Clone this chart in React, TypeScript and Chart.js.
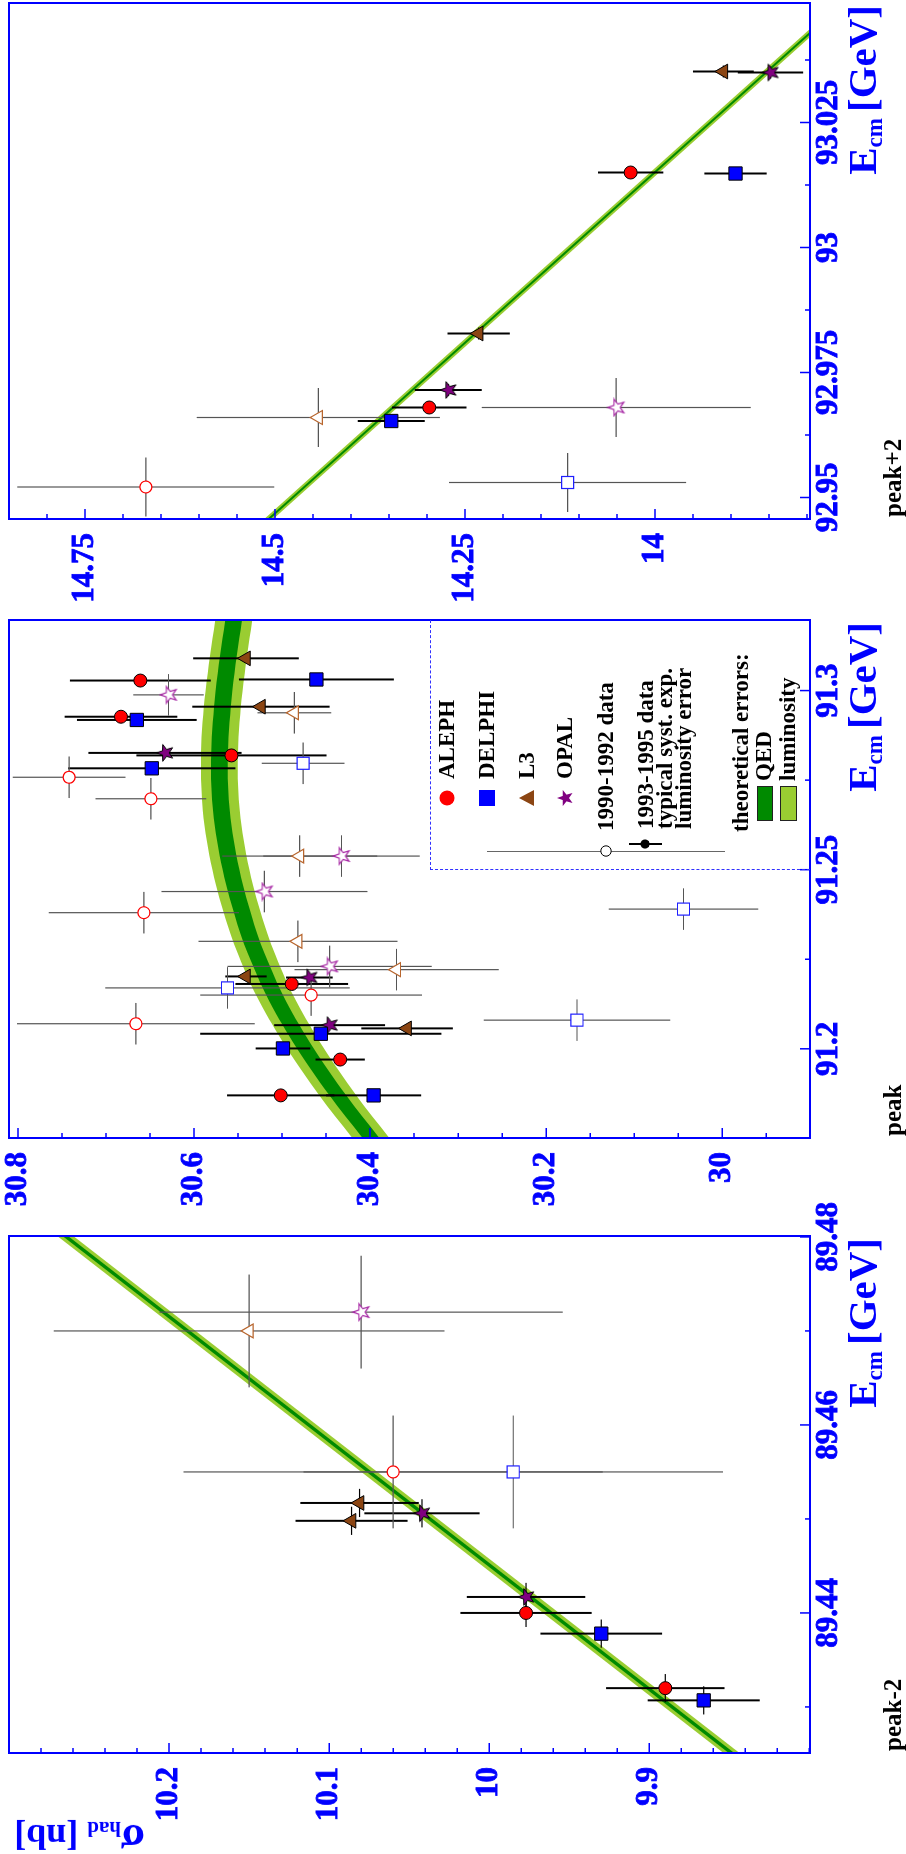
import React, { useEffect, useRef } from 'react';
import { Chart, registerables } from 'chart.js';

Chart.register(...registerables);

const SERIF = '"Liberation Serif", "Times New Roman", Times, serif';
const BLUE = '#0000ff';

// Each measurement: [E_cm (GeV), sigma_had (nb), sigma error (nb), E_cm error (GeV)]
// ---------- peak-2 ----------
const PM2_ALEPH = [[89.44, 9.977, 0.041, 0.0015], [89.432, 9.89, 0.037, 0.0015]];
const PM2_DELPHI = [[89.4378, 9.93, 0.038, 0.0015], [89.4307, 9.866, 0.035, 0.0015]];
const PM2_L3 = [[89.4517, 10.081, 0.037, 0.0015], [89.4498, 10.086, 0.035, 0.0015]];
const PM2_OPAL = [[89.4506, 10.042, 0.036, 0.0015], [89.4417, 9.977, 0.037, 0.0015]];
const PM2_ALEPH_9092 = [[89.455, 10.06, 0.131, 0.006]];
const PM2_DELPHI_9092 = [[89.455, 9.985, 0.131, 0.006]];
const PM2_L3_9092 = [[89.47, 10.15, 0.122, 0.006]];
const PM2_OPAL_9092 = [[89.472, 10.08, 0.126, 0.006]];
const PM2_THEORY_E = [89.42, 89.485];
const PM2_THEORY_SIGMA = [9.81, 10.302];
const PM2_E_TICKS = [89.44, 89.46, 89.48];
const PM2_SIGMA_TICKS = [9.9, 10, 10.1, 10.2];

// ---------- peak ----------
const PK_ALEPH = [[91.3028, 30.661, 0.08, 0], [91.2927, 30.683, 0.064, 0], [91.2819, 30.5575, 0.108, 0], [91.2181, 30.489, 0.064, 0], [91.197, 30.434, 0.028, 0], [91.187, 30.5015, 0.061, 0]];
const PK_DELPHI = [[91.3031, 30.461, 0.088, 0], [91.2918, 30.665, 0.068, 0], [91.2783, 30.648, 0.095, 0], [91.2042, 30.456, 0.137, 0], [91.2001, 30.499, 0.031, 0], [91.187, 30.396, 0.054, 0]];
const PK_L3 = [[91.309, 30.541, 0.06, 0], [91.2955, 30.524, 0.078, 0], [91.2202, 30.541, 0.0235, 0], [91.2057, 30.358, 0.052, 0]];
const PK_OPAL = [[91.2826, 30.633, 0.087, 0], [91.2199, 30.469, 0.0265, 0], [91.2066, 30.446, 0.063, 0]];
const PK_ALEPH_9092 = [[91.2758, 30.742, 0.064, 0.0058], [91.2698, 30.649, 0.063, 0.0058], [91.238, 30.657, 0.108, 0.0058], [91.215, 30.467, 0.126, 0.0058], [91.207, 30.666, 0.135, 0.0058]];
const PK_DELPHI_9092 = [[91.2797, 30.476, 0.047, 0.0058], [91.217, 30.562, 0.139, 0.0058], [91.208, 30.165, 0.106, 0.0058], [91.239, 30.044, 0.085, 0.0058]];
const PK_L3_9092 = [[91.2938, 30.486, 0.042, 0.0058], [91.2538, 30.48, 0.088, 0.0058], [91.23, 30.482, 0.113, 0.0058], [91.2221, 30.37, 0.116, 0.0058]];
const PK_OPAL_9092 = [[91.2988, 30.629, 0.04, 0.0058], [91.2538, 30.4325, 0.089, 0.0058], [91.2439, 30.52, 0.117, 0.0058], [91.223, 30.446, 0.116, 0.0058]];
const PK_THEORY_E = [91.172, 91.1754, 91.1871, 91.2003, 91.2133, 91.224, 91.2346, 91.2499, 91.2666, 91.2827, 91.2997, 91.3197, 91.323];
const PK_THEORY_SIGMA = [30.389, 30.4, 30.437, 30.474, 30.505, 30.525, 30.541, 30.558, 30.569, 30.571, 30.566, 30.555, 30.553];
const PK_E_TICKS = [91.2, 91.25, 91.3];
const PK_SIGMA_TICKS = [30, 30.2, 30.4, 30.6, 30.8];

// ---------- peak+2 ----------
const PP2_ALEPH = [[93.015, 14.032, 0.043, 0.0012], [92.968, 14.297, 0.049, 0.0012]];
const PP2_DELPHI = [[93.0148, 13.894, 0.041, 0.0012], [92.9653, 14.347, 0.044, 0.0012]];
const PP2_L3 = [[93.0352, 13.91, 0.04, 0.0012], [92.9828, 14.232, 0.041, 0.0012]];
const PP2_OPAL = [[93.035, 13.848, 0.043, 0.0012], [92.9715, 14.272, 0.044, 0.0012]];
const PP2_ALEPH_9092 = [[92.9521, 14.67, 0.169, 0.0059]];
const PP2_DELPHI_9092 = [[92.953, 14.115, 0.156, 0.0059]];
const PP2_L3_9092 = [[92.966, 14.443, 0.16, 0.0059]];
const PP2_OPAL_9092 = [[92.968, 14.051, 0.177, 0.0059]];
const PP2_THEORY_E = [92.94, 93.05];
const PP2_THEORY_SIGMA = [14.55, 13.744];
const PP2_E_TICKS = [92.95, 92.975, 93, 93.025];
const PP2_SIGMA_TICKS = [14, 14.25, 14.5, 14.75];

const mkSeries = (al, de, l3, op, al0, de0, l30, op0) => [
  { name: 'ALEPH', open: false, data: al },
  { name: 'DELPHI', open: false, data: de },
  { name: 'L3', open: false, data: l3 },
  { name: 'OPAL', open: false, data: op },
  { name: 'ALEPH', open: true, data: al0 },
  { name: 'DELPHI', open: true, data: de0 },
  { name: 'L3', open: true, data: l30 },
  { name: 'OPAL', open: true, data: op0 },
];

const PANELS = [
  {
    key: 'pm2', label: 'peak-2', left: 101, width: 517,
    eMin: 89.4251, eMax: 89.4801, eMinor: 0.01, eMajors: PM2_E_TICKS,
    sMin: 9.7996, sMax: 10.3, sMinor: 0.02, sMajors: PM2_SIGMA_TICKS,
    series: mkSeries(PM2_ALEPH, PM2_DELPHI, PM2_L3, PM2_OPAL, PM2_ALEPH_9092, PM2_DELPHI_9092, PM2_L3_9092, PM2_OPAL_9092),
    theoryE: PM2_THEORY_E, theoryS: PM2_THEORY_SIGMA, lum: 0.005, qed: 0.0017, tension: 0,
  },
  {
    key: 'pk', label: 'peak', left: 716, width: 518,
    eMin: 91.1751, eMax: 91.3197, eMinor: 0.025, eMajors: PK_E_TICKS,
    sMin: 29.9003, sMax: 30.8102, sMinor: 0.05, sMajors: PK_SIGMA_TICKS,
    series: mkSeries(PK_ALEPH, PK_DELPHI, PK_L3, PK_OPAL, PK_ALEPH_9092, PK_DELPHI_9092, PK_L3_9092, PK_OPAL_9092),
    theoryE: PK_THEORY_E, theoryS: PK_THEORY_SIGMA, lum: 0.021, qed: 0.0095, tension: 0.35,
  },
  {
    key: 'pp2', label: 'peak+2', left: 1335, width: 516,
    eMin: 92.9457, eMax: 93.0489, eMinor: 0.0125, eMajors: PP2_E_TICKS,
    sMin: 13.796, sMax: 14.85, sMinor: 0.05, sMajors: PP2_SIGMA_TICKS,
    series: mkSeries(PP2_ALEPH, PP2_DELPHI, PP2_L3, PP2_OPAL, PP2_ALEPH_9092, PP2_DELPHI_9092, PP2_L3_9092, PP2_OPAL_9092),
    theoryE: PP2_THEORY_E, theoryS: PP2_THEORY_SIGMA, lum: 0.006, qed: 0.002, tension: 0,
  },
];

const Y_AXIS_W = 101;
const X_AXIS_H = 96;
const TOP_PAD = 9;
const RIGHT_PAD = 40;

function ticksIn(min, max, step) {
  const out = [];
  const k0 = Math.ceil(min / step - 1e-6);
  const k1 = Math.floor(max / step + 1e-6);
  for (let k = k0; k <= k1; k++) out.push(+(k * step).toFixed(6));
  return out;
}
const isMajor = (v, majors) => majors.some((m) => Math.abs(m - v) < 1e-7);
const fmt = (v) => String(parseFloat(Number(v).toFixed(4)));

function makeStar(fill, stroke, lw) {
  const c = document.createElement('canvas');
  c.width = 20;
  c.height = 20;
  const g = c.getContext('2d');
  g.beginPath();
  for (let i = 0; i < 10; i++) {
    const r = i % 2 === 0 ? 8.8 : 3.6;
    const a = -Math.PI / 2 + (i * Math.PI) / 5;
    const x = 10 + r * Math.cos(a);
    const y = 10.5 + r * Math.sin(a);
    if (i === 0) g.moveTo(x, y);
    else g.lineTo(x, y);
  }
  g.closePath();
  g.fillStyle = fill;
  g.fill();
  g.lineWidth = lw;
  g.strokeStyle = stroke;
  g.stroke();
  return c;
}

function styleFor(name, open, stars) {
  if (!open) {
    if (name === 'ALEPH') return { pointStyle: 'circle', pointRadius: 6.5, backgroundColor: '#ff0000', borderColor: '#000', borderWidth: 1 };
    if (name === 'DELPHI') return { pointStyle: 'rect', pointRadius: 9.4, backgroundColor: '#0000ff', borderColor: '#000', borderWidth: 1 };
    if (name === 'L3') return { pointStyle: 'triangle', pointRadius: 8.5, backgroundColor: '#8b4513', borderColor: '#000', borderWidth: 1 };
    return { pointStyle: stars.filled, pointRadius: 9 };
  }
  if (name === 'ALEPH') return { pointStyle: 'circle', pointRadius: 6, backgroundColor: '#ffffff', borderColor: '#ff0000', borderWidth: 1.2 };
  if (name === 'DELPHI') return { pointStyle: 'rect', pointRadius: 8.5, backgroundColor: '#ffffff', borderColor: '#2020ff', borderWidth: 1.2 };
  if (name === 'L3') return { pointStyle: 'triangle', pointRadius: 8, backgroundColor: '#ffffff', borderColor: '#b8662e', borderWidth: 1.2 };
  return { pointStyle: stars.open, pointRadius: 9 };
}

function Panel({ p }) {
  const ref = useRef(null);
  useEffect(() => {
    const stars = { filled: makeStar('#800080', '#000000', 1), open: makeStar('#ffffff', '#a626a4', 1.2) };
    const bandLine = (off) => p.theoryE.map((e, i) => ({ x: e, y: p.theoryS[i] + off }));
    const bandBase = { type: 'line', borderColor: 'rgba(0,0,0,0)', borderWidth: 0, pointRadius: 0, tension: p.tension };
    const datasets = [
      { ...bandBase, data: bandLine(-p.lum), fill: false, order: 2 },
      { ...bandBase, data: bandLine(p.lum), fill: '-1', backgroundColor: '#9acd32', order: 2 },
      { ...bandBase, data: bandLine(-p.qed), fill: false, order: 1 },
      { ...bandBase, data: bandLine(p.qed), fill: '-1', backgroundColor: '#008a00', order: 1 },
      ...p.series.map((s) => ({
        type: 'scatter',
        label: s.name + (s.open ? ' 1990-1992' : ' 1993-1995'),
        data: s.data.map(([e, sg, ds, de]) => ({ x: e, y: sg, dy: ds, dx: de })),
        errStyle: s.open ? 'open' : 'filled',
        order: 0,
        ...styleFor(s.name, s.open, stars),
      })),
    ];

    const errPlugin = {
      id: 'errbars',
      beforeDatasetsDraw(chart) {
        const { ctx, chartArea: a } = chart;
        const xs = chart.scales.x;
        const ys = chart.scales.y;
        ctx.save();
        ctx.beginPath();
        ctx.rect(a.left, a.top, a.right - a.left, a.bottom - a.top);
        ctx.clip();
        chart.data.datasets.forEach((ds) => {
          if (!ds.errStyle) return;
          const open = ds.errStyle === 'open';
          ds.data.forEach((pt) => {
            const px = xs.getPixelForValue(pt.x);
            const py = ys.getPixelForValue(pt.y);
            ctx.strokeStyle = open ? '#555555' : '#000000';
            ctx.lineWidth = open ? 1.2 : 2;
            ctx.beginPath();
            ctx.moveTo(px, ys.getPixelForValue(pt.y - pt.dy));
            ctx.lineTo(px, ys.getPixelForValue(pt.y + pt.dy));
            ctx.stroke();
            if (pt.dx) {
              ctx.lineWidth = 1.2;
              ctx.beginPath();
              ctx.moveTo(xs.getPixelForValue(pt.x - pt.dx), py);
              ctx.lineTo(xs.getPixelForValue(pt.x + pt.dx), py);
              ctx.stroke();
            }
          });
        });
        ctx.restore();
      },
    };

    const framePlugin = {
      id: 'frame',
      afterDatasetsDraw(chart) {
        const { ctx, chartArea: a } = chart;
        const xs = chart.scales.x;
        const ys = chart.scales.y;
        ctx.save();
        ctx.strokeStyle = BLUE;
        ctx.lineWidth = 1.5;
        ctx.beginPath();
        xs.ticks.forEach((t) => {
          const px = xs.getPixelForValue(t.value);
          const len = isMajor(t.value, p.eMajors) ? 10 : 5;
          ctx.moveTo(px, a.bottom);
          ctx.lineTo(px, a.bottom - len);
        });
        ys.ticks.forEach((t) => {
          const py = ys.getPixelForValue(t.value);
          const len = isMajor(t.value, p.sMajors) ? 10 : 5;
          ctx.moveTo(a.left, py);
          ctx.lineTo(a.left + len, py);
        });
        ctx.stroke();
        ctx.lineWidth = 2;
        ctx.strokeRect(a.left, a.top, a.right - a.left, a.bottom - a.top);
        ctx.restore();
      },
    };

    const tickFont = { family: SERIF, size: 31, weight: 'bold' };
    const chart = new Chart(ref.current, {
      type: 'scatter',
      data: { datasets },
      plugins: [errPlugin, framePlugin],
      options: {
        animation: false,
        responsive: false,
        devicePixelRatio: 1,
        events: [],
        layout: { padding: { top: TOP_PAD, right: RIGHT_PAD, left: 0, bottom: 0 }, autoPadding: false },
        plugins: {
          legend: { display: false },
          tooltip: { enabled: false },
          filler: { drawTime: 'beforeDatasetsDraw', propagate: false },
        },
        scales: {
          x: {
            type: 'linear',
            min: p.eMin,
            max: p.eMax,
            grid: { display: false, drawTicks: false },
            border: { display: false },
            afterBuildTicks: (s) => {
              s.ticks = ticksIn(p.eMin, p.eMax, p.eMinor).map((v) => ({ value: v }));
            },
            afterFit: (s) => {
              s.height = X_AXIS_H;
              s.paddingLeft = 0;
              s.paddingRight = 0;
            },
            ticks: {
              autoSkip: false,
              maxRotation: 0,
              minRotation: 0,
              padding: 0,
              color: BLUE,
              textStrokeColor: BLUE,
              textStrokeWidth: 0.8,
              font: tickFont,
              callback: (v) => (isMajor(v, p.eMajors) ? fmt(v) : ''),
            },
          },
          y: {
            type: 'linear',
            min: p.sMin,
            max: p.sMax,
            grid: { display: false, drawTicks: false },
            border: { display: false },
            afterBuildTicks: (s) => {
              s.ticks = ticksIn(p.sMin, p.sMax, p.sMinor).map((v) => ({ value: v }));
            },
            afterFit: (s) => {
              s.width = Y_AXIS_W;
              s.paddingTop = 0;
              s.paddingBottom = 0;
            },
            ticks: {
              autoSkip: false,
              padding: 14,
              color: BLUE,
              textStrokeColor: BLUE,
              textStrokeWidth: 0.8,
              font: tickFont,
              callback: (v) => (isMajor(v, p.sMajors) ? fmt(v) : ''),
            },
          },
        },
      },
    });
    return () => chart.destroy();
  }, [p]);

  return (
    <canvas
      ref={ref}
      width={Y_AXIS_W + p.width + RIGHT_PAD}
      height={906}
      style={{ position: 'absolute', left: p.left - Y_AXIS_W, top: 0 }}
    />
  );
}

const txt = (extra) => ({ position: 'absolute', fontFamily: SERIF, fontWeight: 'bold', whiteSpace: 'nowrap', ...extra });

function Legend() {
  const L = 984;
  const T = 430;
  const text = (dx, cy, s, size = 23) => (
    <div style={txt({ left: dx, top: cy - 10, fontSize: size, lineHeight: '20px', color: '#000' })}>{s}</div>
  );
  const svgAt = (cx, cy, w, h, child) => (
    <svg width={w} height={h} style={{ position: 'absolute', left: cx - w / 2, top: cy - h / 2, overflow: 'visible' }}>{child}</svg>
  );
  const starPts = (() => {
    const pts = [];
    for (let i = 0; i < 10; i++) {
      const r = i % 2 === 0 ? 8.5 : 3.5;
      const a = -Math.PI / 2 + (i * Math.PI) / 5;
      pts.push(`${(9 + r * Math.cos(a)).toFixed(2)},${(9.5 + r * Math.sin(a)).toFixed(2)}`);
    }
    return pts.join(' ');
  })();
  return (
    <div
      style={{
        position: 'absolute', left: L, top: T, width: 1234 - L, height: 810 - T,
        borderLeft: '1.5px dashed #3030ff', borderTop: '1.5px dashed #3030ff', boxSizing: 'border-box',
      }}
    >
      {svgAt(71, 16, 16, 16, <circle cx={8} cy={8} r={7.5} fill="#ff0000" />)}
      {text(90, 16, 'ALEPH')}
      {svgAt(71, 56, 16, 16, <rect x={0} y={0} width={16} height={16} fill="#0000ff" />)}
      {text(90, 56, 'DELPHI')}
      {svgAt(71, 96, 16, 16, <polygon points="8,0 16,15 0,15" fill="#8b4513" />)}
      {text(90, 96, 'L3')}
      {svgAt(71, 134, 18, 18, <polygon points={starPts} fill="#800080" />)}
      {text(90, 134, 'OPAL')}

      <div style={{ position: 'absolute', left: 16.5, top: 56, width: 1.5, height: 238, background: '#666' }} />
      {svgAt(17.5, 175, 12, 12, <circle cx={6} cy={6} r={5.2} fill="#fff" stroke="#000" strokeWidth={1} />)}
      {text(38, 175, '1990-1992 data')}

      <div style={{ position: 'absolute', left: 24, top: 198, width: 1.5, height: 33, background: '#000' }} />
      {svgAt(25, 214, 10, 10, <circle cx={5} cy={5} r={4.6} fill="#000" />)}
      {text(40, 215, '1993-1995 data')}
      {text(40, 234, 'typical syst. exp.')}
      {text(40, 253, 'luminosity error')}

      {text(37, 310, 'theoretical errors:')}
      <div style={{ position: 'absolute', left: 48, top: 326, width: 35, height: 16, background: '#008a00', border: '1px solid #222', boxSizing: 'border-box' }} />
      {text(88, 333, 'QED')}
      <div style={{ position: 'absolute', left: 48, top: 349, width: 35, height: 17, background: '#9acd32', border: '1px solid #222', boxSizing: 'border-box' }} />
      {text(88, 357, 'luminosity')}
    </div>
  );
}

export default function App() {
  return (
    <div style={{ position: 'absolute', left: 0, top: 0, width: 906, height: 1854, overflow: 'hidden', background: '#fff' }}>
      <div
        style={{
          position: 'absolute', left: 0, top: 0, width: 1854, height: 906,
          transformOrigin: '0 0', transform: 'translate(0px, 1854px) rotate(-90deg)',
        }}
      >
        {PANELS.map((p) => (
          <Panel key={p.key} p={p} />
        ))}

        {PANELS.map((p) => (
          <div
            key={p.key + '-e'}
            style={txt({ left: p.left + p.width - 232, width: 230, textAlign: 'right', top: 842, fontSize: 41, lineHeight: '40px', color: BLUE })}
          >
            E<span style={{ fontSize: 23, position: 'relative', top: 6 }}>cm</span>
            <span style={{ marginLeft: 6 }}>[GeV]</span>
          </div>
        ))}

        {PANELS.map((p) => (
          <div key={p.key + '-l'} style={txt({ left: p.left + 2, top: 880, fontSize: 25, lineHeight: '25px', color: '#000' })}>
            {p.label}
          </div>
        ))}

        <div
          style={txt({
            left: -5, top: 145, transformOrigin: '0 0', transform: 'rotate(-90deg)',
            fontSize: 36, lineHeight: '40px', color: BLUE,
          })}
        >
          <span style={{ fontSize: 44 }}>σ</span>
          <span style={{ fontSize: 21, position: 'relative', top: 3 }}>had</span> [nb]
        </div>

        <Legend />
      </div>
    </div>
  );
}
